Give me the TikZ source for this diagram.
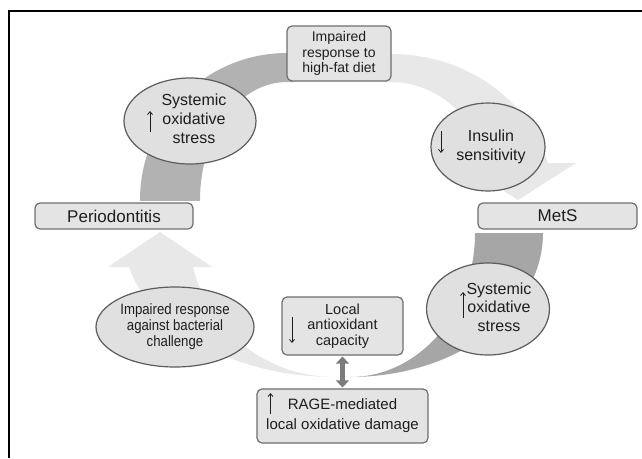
\documentclass[tikz,border=0pt]{standalone}
\usepackage{fontspec}
\setmainfont{Liberation Sans}
\newfontfamily\narrowsans[FakeStretch=0.88]{Liberation Sans}
\usetikzlibrary{arrows.meta,calc,shapes.geometric}
\definecolor{darkband}{HTML}{B2B2B2}
\definecolor{darkbandb}{HTML}{A6A6A6}
\definecolor{lightband}{HTML}{E8E8E8}
\definecolor{boxfill}{HTML}{E4E4E4}
\definecolor{boxline}{HTML}{6E6E6E}
\definecolor{ellfill}{HTML}{E0E0E0}
\definecolor{ellline}{HTML}{5C5C5C}
\definecolor{txt}{HTML}{1E1E1E}
\definecolor{dblgray}{HTML}{7C7C7C}
\tikzset{
  roundbox/.style={draw=boxline, fill=boxfill, line width=1.2pt, rounded corners=5pt,
    inner sep=0pt, align=center, text=txt},
  ellnode/.style={ellipse, draw=ellline, fill=ellfill, line width=1.2pt,
    inner sep=0pt, align=center, text=txt},
  thinarrow/.style={draw=txt, line width=0.8pt, -{Straight Barb[length=3pt,width=5pt]}},
  dblarrow/.style={draw=dblgray, line width=5pt,
    {Triangle[width=13pt,length=7pt]}-{Triangle[width=13pt,length=7pt]}}
}
\begin{document}
\begin{tikzpicture}[x=1pt,y=-1pt]
\useasboundingbox (0,0) rectangle (642,458);
% frame
\draw[line width=2pt, black] (642,11) -- (9,11) -- (9,458);

% upper-left dark band
\begin{scope}
\clip (120,40) rectangle (293,200);
\fill[darkband, even odd rule] (287,200) ellipse [x radius=147pt, y radius=147pt]
  (287,200) ellipse [x radius=87pt, y radius=118pt];
\end{scope}
% upper-right light band with arrow head
\begin{scope}
\clip (385,40) rectangle (580,163.5);
\fill[lightband, even odd rule] (391,200) ellipse [x radius=162pt, y radius=146pt]
  (391,200) ellipse [x radius=102pt, y radius=118pt];
\end{scope}
\fill[lightband] (460,163) -- (576,163) -- (518,200) -- cycle;
% lower-right dark band
\begin{scope}
\clip (350,233) rectangle (560,380);
\fill[darkbandb, even odd rule] (350,233) ellipse [x radius=193pt, y radius=144pt]
  (350,233) ellipse [x radius=125pt, y radius=144pt];
\end{scope}
% lower-left light band with arrow head
\begin{scope}
\clip (100,266.5) rectangle (335,380);
\fill[lightband, even odd rule] (335,233) ellipse [x radius=212pt, y radius=144pt]
  (335,233) ellipse [x radius=146pt, y radius=144pt];
\end{scope}
\fill[lightband] (108,267) -- (212,267) -- (160,232) -- cycle;

% nodes
\node[roundbox, minimum width=104pt, minimum height=55pt,
  font=\fontsize{14}{15.5}\selectfont] (diet) at (339,53.5)
  {Impaired\\response to\\high-fat diet};
\node[ellnode, minimum width=132pt, minimum height=86pt,
  font=\fontsize{16}{19}\selectfont] (sys1) at (190,121)
  {\kern8pt\begin{tabular}{@{}c@{}}Systemic\\oxidative\\stress\end{tabular}};
\node[ellnode, minimum width=114pt, minimum height=88pt,
  font=\fontsize{16}{19}\selectfont] (ins) at (488,147)
  {\kern6pt\begin{tabular}{@{}c@{}}Insulin\\sensitivity\end{tabular}};
\node[roundbox, minimum width=158pt, minimum height=26pt,
  font=\fontsize{17}{19}\selectfont] (perio) at (114,216) {Periodontitis};
\node[roundbox, minimum width=159pt, minimum height=26pt,
  font=\fontsize{17}{19}\selectfont] (mets) at (557.5,216) {MetS};
\node[ellnode, minimum width=158pt, minimum height=80pt,
  font=\narrowsans\fontsize{15}{16}\selectfont] (bact) at (175,327)
  {Impaired response\\against bacterial\\challenge};
\node[roundbox, minimum width=121pt, minimum height=58pt,
  font=\fontsize{14.5}{15.5}\selectfont] (lac) at (342.5,326)
  {Local\\antioxidant\\capacity};
\node[ellnode, minimum width=116pt, minimum height=92pt,
  font=\fontsize{16}{18.5}\selectfont] (sys2) at (488,309)
  {\kern22pt\begin{tabular}{@{}c@{}}Systemic\\oxidative\\stress\end{tabular}};
\node[roundbox, minimum width=171pt, minimum height=54pt,
  font=\fontsize{15}{20}\selectfont] (rage) at (342.5,416)
  {RAGE-mediated\\local oxidative damage};

% thin arrows inside the text
\draw[thinarrow] ($(sys1.center)+(-40,11)$) -- ($(sys1.center)+(-40,-10)$);
\draw[thinarrow] ($(ins.center)+(-47,-16)$) -- ($(ins.center)+(-47,6)$);
\draw[thinarrow] ($(lac.center)+(-50.5,-9)$) -- ($(lac.center)+(-50.5,17)$);
\draw[thinarrow] ($(sys2.center)+(-25,9)$) -- ($(sys2.center)+(-25,-17)$);
\draw[thinarrow] ($(rage.center)+(-72,-2)$) -- ($(rage.center)+(-72,-23)$);

% double arrow
\draw[dblarrow, shorten <=1pt, shorten >=1pt] (lac.south) -- (rage.north);
\end{tikzpicture}
\end{document}
